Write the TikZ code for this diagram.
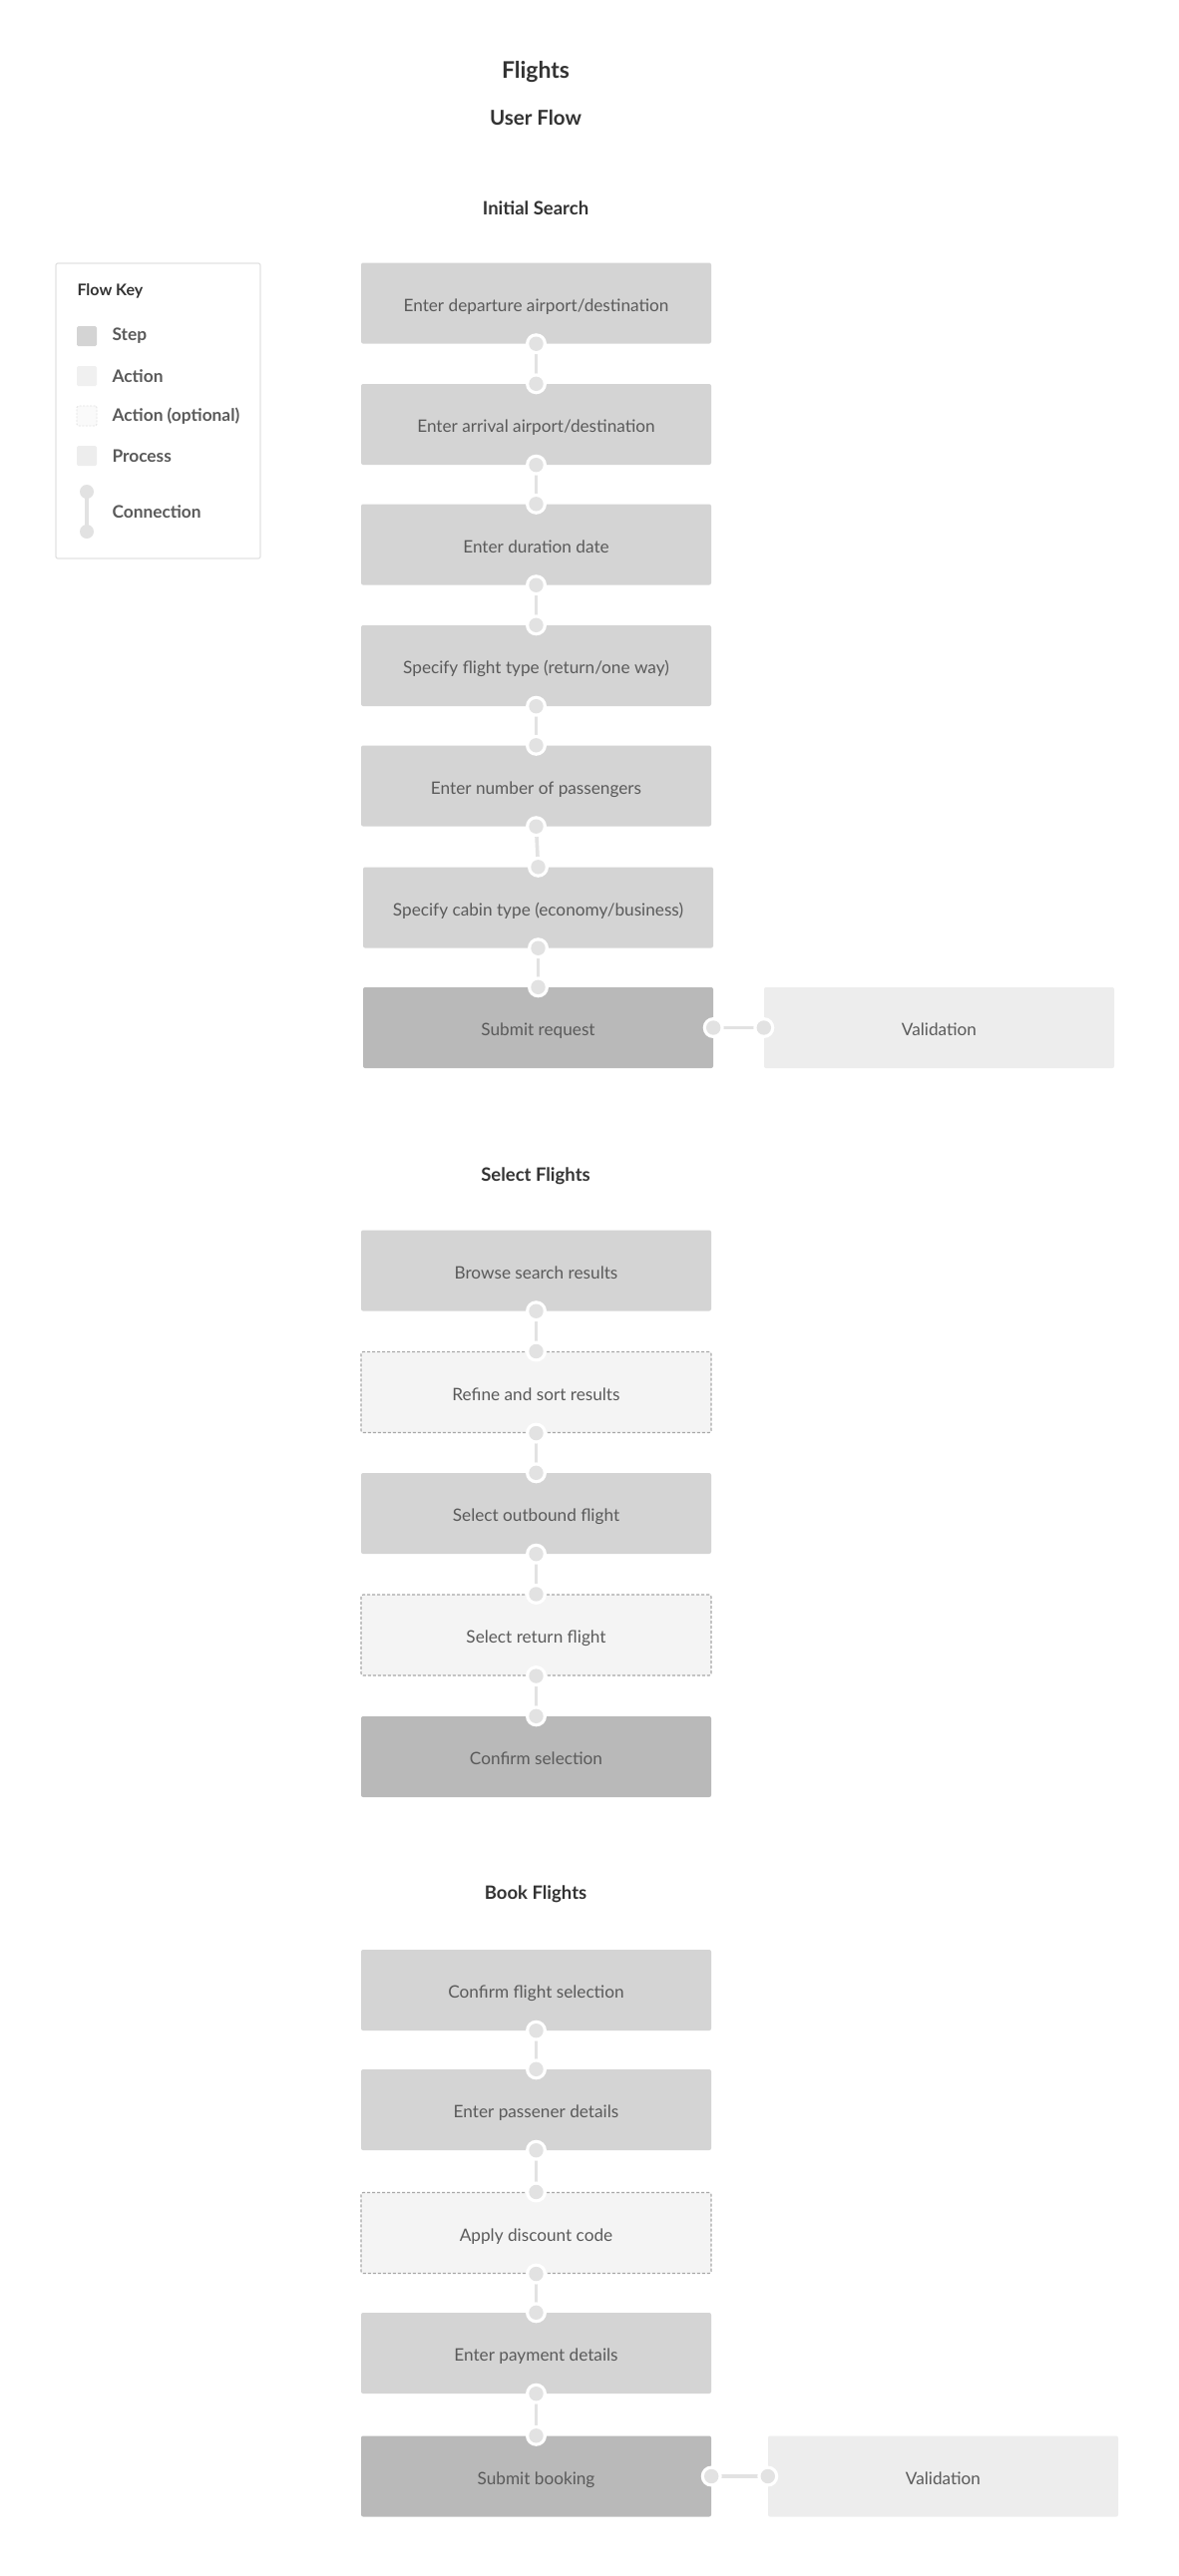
\documentclass[tikz,border=0pt]{standalone}
\usepackage{fontspec}
\setmainfont{Lato}
\definecolor{stepgray}{HTML}{D4D4D4}
\definecolor{finalgray}{HTML}{B9B9B9}
\definecolor{procgray}{HTML}{EDEDED}
\definecolor{optgray}{HTML}{F4F4F4}
\definecolor{actgray}{HTML}{F0F0F0}
\definecolor{dashgray}{HTML}{A8A8A8}
\definecolor{linkgray}{HTML}{E2E2E2}
\definecolor{boxtext}{HTML}{5A5A5A}
\definecolor{headtext}{HTML}{333333}
\definecolor{keyborder}{HTML}{E2E2E2}
\newcommand\boxfont{\fontsize{17.2}{20}\selectfont}
% vertical link between two stacked boxes
\newcommand\linkdown[2]{%
  \draw[linkline] (#1.south) -- (#2.north);
  \fill[white] (#1.south) circle (10.5);
  \fill[linkgray] (#1.south) circle (7.2);
  \fill[white] (#2.north) circle (10.5);
  \fill[linkgray] (#2.north) circle (7.2);}
% horizontal link from a step to its side box
\newcommand\linkside[2]{%
  \draw[linkline] (#1.east) -- (#2.west);
  \fill[white] (#1.east) circle (10.5);
  \fill[linkgray] (#1.east) circle (7.2);
  \fill[white] (#2.west) circle (10.5);
  \fill[linkgray] (#2.west) circle (7.2);}
\begin{document}
\begin{tikzpicture}[x=1pt,y=-1pt,
  base/.style={rectangle, rounded corners=2pt, minimum width=351pt, minimum height=81pt,
    inner sep=0pt, text=boxtext, font=\boxfont, text height=16pt, text depth=0pt},
  stepbox/.style={base, fill=stepgray},
  finalbox/.style={base, fill=finalgray},
  procbox/.style={base, fill=procgray},
  optbox/.style={base, fill=optgray, draw=dashgray, line width=1.1pt, dash pattern=on 3pt off 2pt},
  linkline/.style={draw=linkgray, line width=3.6pt},
  title/.style={text=headtext, font=\bfseries\fontsize{23}{26}\selectfont},
  subtitle/.style={text=headtext, font=\bfseries\fontsize{20.5}{24}\selectfont},
  section/.style={text=headtext, font=\bfseries\fontsize{18.5}{22}\selectfont},
  keylabel/.style={text=boxtext, font=\bfseries\fontsize{17.3}{20}\selectfont, anchor=west},
  swatch/.style={rectangle, rounded corners=1.5pt, minimum size=20pt, inner sep=0pt}]
\useasboundingbox[fill=white] (0,0) rectangle (1181,2583);

% headings
\node[title] (ttl) at (537,72) {Flights};
\node[subtitle] (sub) at (537,118) {User Flow};

% flow key
\draw[keyborder, line width=1.2pt, fill=white, rounded corners=2pt] (56,264) rectangle (261,560);
\node[text=headtext, font=\bfseries\fontsize{16}{19}\selectfont, anchor=west] (keyttl) at (74,292) {Flow Key};
\node[swatch, fill=stepgray] (kstep) at (87,337) {};
\node[keylabel] (kstepl) at (109,337) {Step};
\node[swatch, fill=actgray] (kact) at (87,377) {};
\node[keylabel] (kactl) at (109,377) {Action};
\node[swatch, fill=optgray!50, draw=linkgray, line width=0.8pt, dash pattern=on 2pt off 1.5pt] (kopt) at (87,417) {};
\node[keylabel] (koptl) at (109,417) {Action (optional)};
\node[swatch, fill=procgray] (kproc) at (87,457) {};
\node[keylabel] (kprocl) at (109,457) {Process};
\coordinate (kc1) at (87,493);
\coordinate (kc2) at (87,533);
\draw[linkline] (kc1) -- (kc2);
\fill[linkgray] (kc1) circle (7);
\fill[linkgray] (kc2) circle (7);
\node[keylabel] (kconl) at (109,513) {Connection};

% initial search
\node[section] (sec1) at (537,209) {Initial Search};
\node[stepbox] (s1) at (537.5,304) {Enter departure airport/destination};
\node[stepbox] (s2) at (537.5,425.5) {Enter arrival airport/destination};
\node[stepbox] (s3) at (537.5,546) {Enter duration date};
\node[stepbox] (s4) at (537.5,667.5) {Specify flight type (return/one way)};
\node[stepbox] (s5) at (537.5,788) {Enter number of passengers};
\node[stepbox] (s6) at (539.5,910) {Specify cabin type (economy/business)};
\node[finalbox] (s7) at (539.5,1030.5) {Submit request};
\node[procbox] (v1) at (941.5,1030.5) {Validation};
\linkdown{s1}{s2}
\linkdown{s2}{s3}
\linkdown{s3}{s4}
\linkdown{s4}{s5}
\linkdown{s5}{s6}
\linkdown{s6}{s7}
\linkside{s7}{v1}

% select flights
\node[section] (sec2) at (537,1179) {Select Flights};
\node[stepbox] (f1) at (537.5,1274) {Browse search results};
\node[optbox] (f2) at (537.5,1396) {Refine and sort results};
\node[stepbox] (f3) at (537.5,1517.5) {Select outbound flight};
\node[optbox] (f4) at (537.5,1639.5) {Select return flight};
\node[finalbox] (f5) at (537.5,1761.5) {Confirm selection};
\linkdown{f1}{f2}
\linkdown{f2}{f3}
\linkdown{f3}{f4}
\linkdown{f4}{f5}

% book flights
\node[section] (sec3) at (537,1899) {Book Flights};
\node[stepbox] (b1) at (537.5,1995.5) {Confirm flight selection};
\node[stepbox] (b2) at (537.5,2115.5) {Enter passener details};
\node[optbox] (b3) at (537.5,2239) {Apply discount code};
\node[stepbox] (b4) at (537.5,2359.5) {Enter payment details};
\node[finalbox] (b5) at (537.5,2483) {Submit booking};
\node[procbox] (v2) at (945.5,2483) {Validation};
\linkdown{b1}{b2}
\linkdown{b2}{b3}
\linkdown{b3}{b4}
\linkdown{b4}{b5}
\linkside{b5}{v2}
\end{tikzpicture}
\end{document}
